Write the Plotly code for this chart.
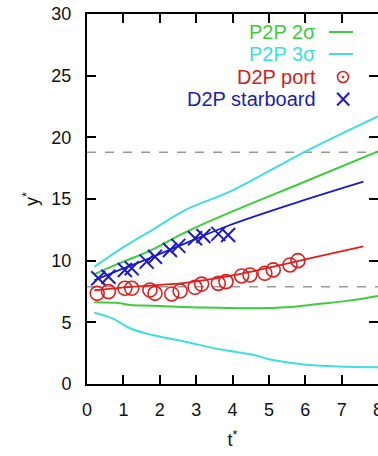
import plotly.graph_objects as go

# ---- data ----
t_3s_up = [0.2, 0.9, 1.8, 2.7, 4.0, 6.0, 8.0]
y_3s_up = [9.5, 10.9, 12.5, 14.1, 15.7, 18.85, 21.7]
t_2s_up = [0.2, 0.9, 1.8, 2.7, 4.0, 5.9, 8.0]
y_2s_up = [8.9, 9.8, 10.9, 12.3, 14.0, 16.3, 18.85]
t_2s_lo = [0.2, 0.9, 1.2, 1.8, 3.2, 4.6, 5.5, 6.4, 7.3, 8.0]
y_2s_lo = [6.62, 6.55, 6.4, 6.35, 6.2, 6.14, 6.22, 6.5, 6.8, 7.14]
t_3s_lo = [0.2, 0.7, 1.2, 1.8, 2.7, 3.65, 4.6, 5.0, 5.9, 6.9, 8.0]
y_3s_lo = [5.78, 5.32, 4.5, 3.97, 3.43, 2.81, 2.35, 2.0, 1.6, 1.41, 1.35]

t_star_fit = [0.2, 0.9, 1.8, 2.7, 3.9, 5.7, 7.6]
y_star_fit = [8.4, 9.25, 10.3, 11.4, 12.85, 14.65, 16.4]
t_port_fit = [0.2, 0.9, 1.8, 2.7, 4.0, 6.15, 7.6]
y_port_fit = [7.6, 7.8, 8.0, 8.2, 8.8, 10.2, 11.15]

t_star = [0.31, 0.59, 1.04, 1.23, 1.64, 1.87, 2.28, 2.51, 2.97, 3.2, 3.61, 3.88]
y_star = [8.57, 8.7, 9.25, 9.38, 9.92, 10.32, 10.87, 11.2, 11.82, 12.0, 12.17, 12.08]
t_port = [0.28, 0.59, 1.04, 1.23, 1.73, 1.87, 2.33, 2.56, 2.97, 3.15, 3.61, 3.82,
          4.25, 4.48, 4.89, 5.12, 5.58, 5.8]
y_port = [7.35, 7.49, 7.76, 7.76, 7.62, 7.35, 7.3, 7.54, 7.84, 8.1, 8.16, 8.3,
          8.76, 8.84, 8.98, 9.25, 9.65, 10.0]

ref_levels = [18.8, 7.88]

x_ticks = [0, 1, 2, 3, 4, 5, 6, 7, 8]
y_ticks = [0, 5, 10, 15, 20, 25, 30]

legend_labels = ["P2P 2σ", "P2P 3σ", "D2P port", "D2P starboard"]

GREEN = "#3ccc3c"
CYAN = "#40dede"
RED = "#dd2020"
BLUE = "#1c1cc0"
colors = [GREEN, CYAN, "#cc2222", "#1e1eaa"]

fig = go.Figure()
for tt, yy, c in [(t_3s_up, y_3s_up, CYAN), (t_3s_lo, y_3s_lo, CYAN),
                  (t_2s_up, y_2s_up, GREEN), (t_2s_lo, y_2s_lo, GREEN)]:
    fig.add_trace(go.Scatter(x=tt, y=yy, mode="lines", line=dict(color=c, width=2),
                             line_shape="spline", showlegend=False))
fig.add_trace(go.Scatter(x=t_star_fit, y=y_star_fit, mode="lines",
                         line=dict(color=BLUE, width=1.8), line_shape="spline", showlegend=False))
fig.add_trace(go.Scatter(x=t_port_fit, y=y_port_fit, mode="lines",
                         line=dict(color=RED, width=1.8), line_shape="spline", showlegend=False))
fig.add_trace(go.Scatter(x=t_star, y=y_star, mode="markers",
                         marker=dict(symbol="x-thin-open", size=14, color=BLUE,
                                     line=dict(color=BLUE, width=2)),
                         showlegend=False))
fig.add_trace(go.Scatter(x=t_port, y=y_port, mode="markers",
                         marker=dict(symbol="circle-open", size=14, color=RED,
                                     line=dict(color=RED, width=1.6)),
                         showlegend=False))

for lv in ref_levels:
    fig.add_shape(type="line", xref="paper", x0=0, x1=1, yref="y", y0=lv, y1=lv,
                  line=dict(color="#999999", width=1.5, dash="dash"), layer="below")

# legend (text right-aligned, sample on the right)
W, H = 378, 456
L, R, T, B = 87, 0, 14, 72
pw, ph = W - L - R, H - T - B
def px2x(px):
    return (px - L) / pw
def py2y(py):
    return (H - B - py) / ph

rows = [32, 54, 77, 99]
for lab, c, py in zip(legend_labels, colors, rows):
    fig.add_annotation(xref="paper", yref="paper", x=px2x(318), y=py2y(py), text=lab,
                       showarrow=False, xanchor="right", yanchor="middle",
                       font=dict(color=c, size=20, family="Liberation Sans"))
fig.add_shape(type="line", xref="paper", yref="paper", x0=px2x(329), x1=px2x(353),
              y0=py2y(rows[0]), y1=py2y(rows[0]), line=dict(color=GREEN, width=2))
fig.add_shape(type="line", xref="paper", yref="paper", x0=px2x(329), x1=px2x(353),
              y0=py2y(rows[1]), y1=py2y(rows[1]), line=dict(color=CYAN, width=2))
fig.add_shape(type="circle", xref="paper", yref="paper", xsizemode="pixel", ysizemode="pixel",
              xanchor=px2x(343), yanchor=py2y(rows[2]), x0=-5.5, x1=5.5, y0=-5.5, y1=5.5,
              line=dict(color=RED, width=1.6))
fig.add_shape(type="circle", xref="paper", yref="paper", xsizemode="pixel", ysizemode="pixel",
              xanchor=px2x(343), yanchor=py2y(rows[2]), x0=-1, x1=1, y0=-1, y1=1,
              line=dict(color=RED, width=1), fillcolor=RED)
fig.add_annotation(xref="paper", yref="paper", x=px2x(343), y=py2y(rows[3]), text="×",
                   showarrow=False, xanchor="center", yanchor="middle",
                   font=dict(color=BLUE, size=24, family="DejaVu Sans"))

axis_common = dict(showline=True, linecolor="black", linewidth=2, mirror="ticks",
                   ticks="inside", ticklen=9, tickwidth=2, tickcolor="black",
                   showgrid=False, zeroline=False,
                   tickfont=dict(size=18, color="#111", family="Liberation Sans"))
fig.update_xaxes(range=[0, 8], tickvals=x_ticks, ticktext=[str(v) for v in x_ticks],
                 title=dict(text="t<sup>*</sup>", font=dict(size=18, family="Liberation Sans", color="#111"),
                            standoff=15),
                 ticklabelstandoff=8, ticklabeloverflow="allow", **axis_common)
fig.update_yaxes(range=[0, 30], tickvals=y_ticks, ticktext=[str(v) for v in y_ticks],
                 title=dict(text="y<sup>*</sup>", font=dict(size=18, family="Liberation Sans", color="#111"),
                            standoff=8),
                 ticklabelstandoff=10, ticklabeloverflow="allow", **axis_common)

fig.update_layout(width=W, height=H, margin=dict(l=L, r=R, t=T, b=B, autoexpand=False),
                  plot_bgcolor="white", paper_bgcolor="white", showlegend=False)

fig.write_html("out.html")
